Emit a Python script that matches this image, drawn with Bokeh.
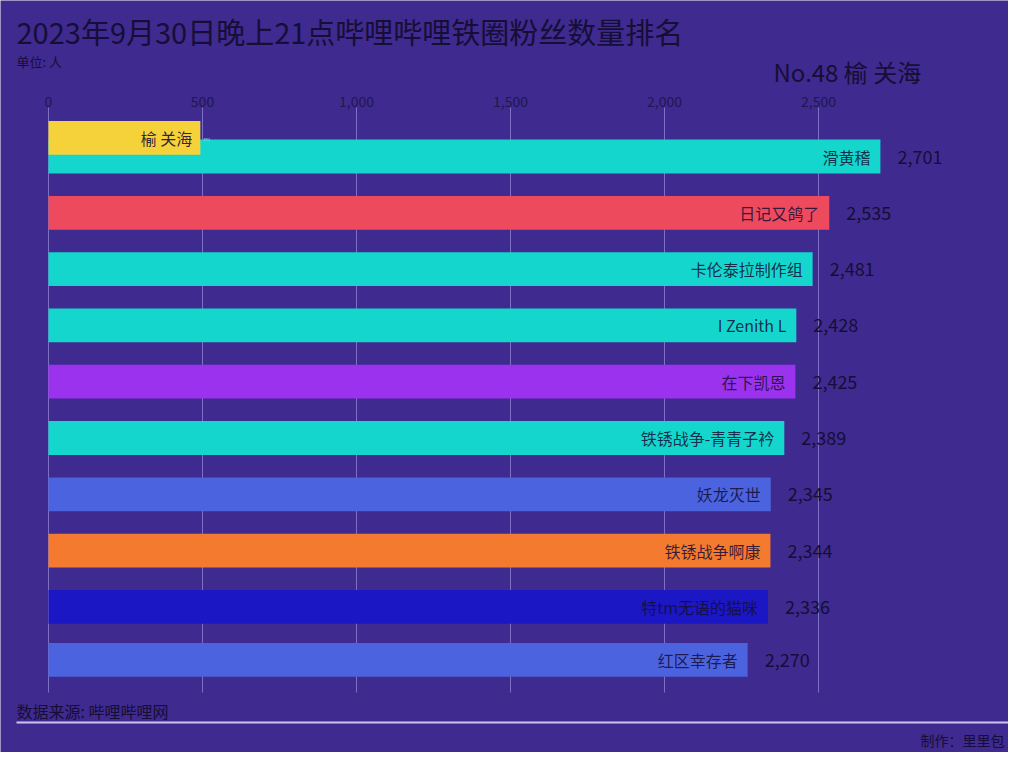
from bokeh.plotting import figure
from bokeh.models import (ColumnDataSource, Range1d, Label, BoxAnnotation, FixedTicker,
                          NumeralTickFormatter, LinearAxis)
from bokeh.embed import file_html
from bokeh.resources import INLINE
from bokeh.core.properties import value

# ---------------- data ----------------
title_text = "2023年9月30日晚上21点哔哩哔哩铁圈粉丝数量排名"
unit_text = "单位: 人"
current_text = "No.48 榆 关海"
source_text = "数据来源: 哔哩哔哩网"
author_text = "制作：里里包"

names = ["滑黄稽", "日记又鸽了", "卡伦泰拉制作组", "I Zenith L", "在下凯恩",
         "铁锈战争-青青子衿", "妖龙灭世", "铁锈战争啊康", "特tm无语的猫咪", "红区幸存者"]
fans = [2701, 2535, 2481, 2428, 2425, 2389, 2345, 2344, 2336, 2270]
ranks = [0, 1, 2, 3, 4, 5, 6, 7, 8, 8.94]
colors = ["#14d6cc", "#ee4a5e", "#14d6cc", "#14d6cc", "#9a32ee",
          "#14d6cc", "#4b63de", "#f47a30", "#1b17c4", "#4b63de"]

new_names = ["榆 关海"]
new_fans = [493]
new_ranks = [-0.33]
new_colors = ["#f6d23a"]

ticks = [0, 500, 1000, 1500, 2000, 2500]

# ---------------- layout / styles ----------------
FONT = "Noto Sans CJK SC"
BG = "#3f2a8f"
DARK = "#150e36"
W, H = 1008, 752
X0_PX = 48            # pixel position of value 0
PX_PER_UNIT = 0.308   # pixels per fan
ROW0_PX = 156         # pixel centre of rank 0
ROW_PX = 56.3         # pixels per rank step
GRID_TOP_PX, GRID_BOTTOM_PX = 107, 692

def rank_at(px):
    return (px - ROW0_PX) / ROW_PX

src = ColumnDataSource(dict(name=names, fans=fans, rank=ranks, color=colors,
                            label=[f"{v:,}" for v in fans]))
src_new = ColumnDataSource(dict(name=new_names, fans=new_fans, rank=new_ranks, color=new_colors,
                                label=[f"{v:,}" for v in new_fans]))

p = figure(width=W, height=H, output_backend="svg", toolbar_location=None,
           x_range=Range1d(-X0_PX / PX_PER_UNIT, (W - X0_PX) / PX_PER_UNIT),
           y_range=Range1d(rank_at(H), rank_at(0)),
           x_axis_location=None, y_axis_location=None,
           min_border=0, background_fill_color=BG, border_fill_color=BG)
p.outline_line_color = None
p.xgrid.visible = False
p.ygrid.visible = False

# value axis drawn at the top of the bar area
ax = LinearAxis(ticker=FixedTicker(ticks=ticks), formatter=NumeralTickFormatter(format="0,0"),
                fixed_location=rank_at(GRID_TOP_PX))
ax.axis_line_color = None
ax.major_tick_line_color = None
ax.minor_tick_line_color = None
ax.major_tick_out = 0
ax.major_tick_in = 0
ax.major_label_standoff = 1
ax.major_label_text_font = FONT
ax.major_label_text_font_size = "14px"
ax.major_label_text_color = "#1e1850"
p.add_layout(ax, "above")

# grid lines at the tick values
p.segment(x0=ticks, x1=ticks, y0=[rank_at(GRID_TOP_PX)] * len(ticks),
          y1=[rank_at(GRID_BOTTOM_PX)] * len(ticks), line_color="#7d70c4", line_width=1)

p.hbar(y="rank", left=0, right="fans", height=0.6, fill_color="color", line_color=None, source=src)
p.text(x="fans", y="rank", text="name", source=src, x_offset=-10, text_align="right",
       text_baseline="middle", text_font=value(FONT), text_font_size="16px",
       text_color=DARK, text_alpha=0.85)
p.text(x="fans", y="rank", text="label", source=src, x_offset=17, text_align="left",
       text_baseline="middle", text_font=value(FONT), text_font_size="18px", text_color=DARK)

p.hbar(y="rank", left=0, right="fans", height=0.6, fill_color="color", line_color=None, source=src_new)
p.text(x="fans", y="rank", text="name", source=src_new, x_offset=-8, text_align="right",
       text_baseline="middle", text_font=value(FONT), text_font_size="16px",
       text_color=DARK, text_alpha=0.9)
p.text(x="fans", y="rank", text="label", source=src_new, x_offset=3, y_offset=2, text_align="left",
       text_baseline="middle", text_font=value(FONT), text_font_size="4px", text_color="#9fe6ee")

def lab(text, x, y, size, align="left", color=DARK):
    p.add_layout(Label(x=x, y=y, x_units="canvas", y_units="canvas", text=text,
                       text_font=FONT, text_font_size=size, text_color=color,
                       text_align=align, text_baseline="middle"))

lab(title_text, 16, 30, "29px")
lab(unit_text, 16, 61, "13px")
lab(current_text, 773, 71, "24px")
lab(source_text, 16, 710, "16px")
lab(author_text, 1004, 739, "14px", align="right")

p.add_layout(BoxAnnotation(left=16, right=1008, top=721, bottom=723,
                           left_units="canvas", right_units="canvas",
                           top_units="canvas", bottom_units="canvas",
                           fill_color="#cbc4f2", fill_alpha=1, line_color=None))

open("out.html", "w").write(file_html(p, INLINE))
